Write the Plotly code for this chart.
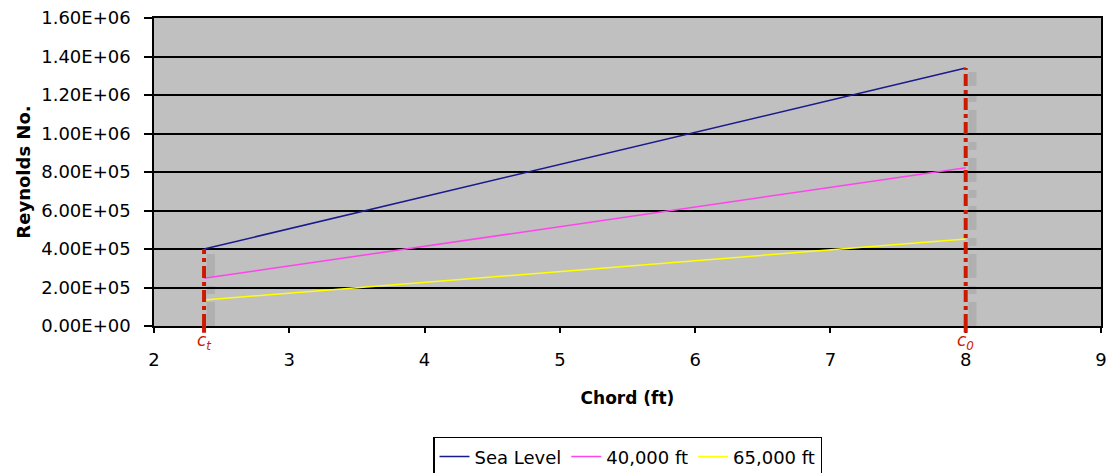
import plotly.graph_objects as go

chord = [2.37, 8.0]
sea_level = [4.0e5, 1.34e6]
ft_40000 = [2.48e5, 8.22e5]
ft_65000 = [1.35e5, 4.52e5]
series_names = ["Sea Level", "40,000 ft", "65,000 ft"]
series_colors = ["#1a1a8c", "#ff44ee", "#ffff00"]
marker_x = [2.37, 8.0]
marker_top = [4.0e5, 1.34e6]
marker_labels = ["c<sub>t</sub>", "c<sub>0</sub>"]
y_ticks = [0, 2e5, 4e5, 6e5, 8e5, 1.0e6, 1.2e6, 1.4e6, 1.6e6]
y_tick_text = ["0.00E+00", "2.00E+05", "4.00E+05", "6.00E+05", "8.00E+05",
               "1.00E+06", "1.20E+06", "1.40E+06", "1.60E+06"]

FONT = "DejaVu Sans"
RED = "#cc1a00"
fig = go.Figure()

for xv, top in zip(marker_x, marker_top):
    # soft shadow
    fig.add_shape(type="line", xref="x", yref="y", x0=xv + 0.05, x1=xv + 0.05,
                  y0=0, y1=top - 0.2e5,
                  line=dict(color="rgba(90,90,90,0.15)", width=8, dash="dashdot"),
                  layer="below")
    # main red dash-dot marker line
    fig.add_shape(type="line", xref="x", yref="y", x0=xv, x1=xv,
                  y0=0, y1=top,
                  line=dict(color=RED, width=4, dash="dashdot"))
    # short stub below the axis
    fig.add_shape(type="line", xref="x", yref="paper", x0=xv, x1=xv,
                  y0=-0.022, y1=0,
                  line=dict(color=RED, width=4))

for name, vals, col in zip(series_names, [sea_level, ft_40000, ft_65000], series_colors):
    fig.add_trace(go.Scatter(x=chord, y=vals, mode="lines", name=name,
                             line=dict(color=col, width=1.5)))

for xv, lab in zip(marker_x, marker_labels):
    fig.add_annotation(x=xv, xref="x", y=0, yref="paper", yanchor="top", yshift=-2,
                       text="<i>" + lab + "</i>", showarrow=False,
                       font=dict(family=FONT, size=17, color=RED))

fig.update_layout(
    width=1109, height=473,
    margin=dict(l=154, r=8, t=18, b=147, autoexpand=False),
    paper_bgcolor="white", plot_bgcolor="#c0c0c0",
    font=dict(family=FONT, size=18, color="black"),
    showlegend=True,
    legend=dict(orientation="h", x=0.5, xanchor="center", y=-0.36, yanchor="top",
                bordercolor="black", borderwidth=1.5, font=dict(size=18),
                tracegroupgap=0),
)
fig.update_xaxes(range=[2, 9], dtick=1, tick0=2, showgrid=False, zeroline=False,
                 showline=True, linecolor="black", linewidth=1.5, mirror=True,
                 ticks="outside", ticklen=5, tickcolor="black", tickwidth=1.5,
                 tickfont=dict(size=18), ticklabelstandoff=12,
                 title=dict(text="<b>Chord (ft)</b>", font=dict(size=17), standoff=23))
fig.update_yaxes(range=[0, 1.6e6], tickvals=y_ticks, ticktext=y_tick_text,
                 showgrid=True, gridcolor="black", gridwidth=1.5, zeroline=False,
                 showline=True, linecolor="black", linewidth=1.5, mirror=True,
                 ticks="outside", ticklen=8, tickcolor="black", tickwidth=1.5,
                 tickfont=dict(size=18), ticklabelstandoff=10,
                 title=dict(text="<b>Reynolds No.</b>", font=dict(size=18), standoff=6))

fig.write_html("out.html")
